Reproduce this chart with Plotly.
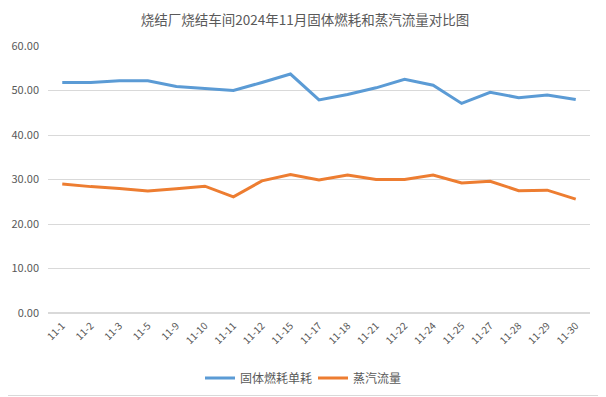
import plotly.graph_objects as go

categories = ["11-1", "11-2", "11-3", "11-5", "11-9", "11-10", "11-11", "11-12", "11-15", "11-17",
              "11-18", "11-21", "11-22", "11-24", "11-25", "11-27", "11-28", "11-29", "11-30"]
solid_fuel = [51.8, 51.8, 52.2, 52.2, 50.9, 50.5, 50.0, 51.8, 53.7, 47.9,
              49.1, 50.6, 52.5, 51.2, 47.1, 49.6, 48.4, 49.0, 48.0]
steam_flow = [29.0, 28.4, 28.0, 27.4, 27.9, 28.5, 26.1, 29.7, 31.1, 29.9,
              31.0, 30.0, 30.0, 31.0, 29.2, 29.6, 27.5, 27.6, 25.6]
series_names = ["固体燃耗单耗", "蒸汽流量"]
title_text = "烧结厂烧结车间2024年11月固体燃耗和蒸汽流量对比图"

# page body has an 8px default margin, so the figure starts at (8, 8)
OFF = 8
W, H = 606 - OFF, 397 - OFF
L, R, T, B = 48 - OFF, 16, 46 - OFF, 84

fig = go.Figure()
fig.add_trace(go.Scatter(x=categories, y=solid_fuel, mode="lines", name=series_names[0],
                         line=dict(color="#5B9BD5", width=3)))
fig.add_trace(go.Scatter(x=categories, y=steam_flow, mode="lines", name=series_names[1],
                         line=dict(color="#ED7D31", width=3)))

pw = W - L - R
ph = H - T - B
fig.add_shape(type="rect", xref="paper", yref="paper",
              x0=-(L + 5) / pw, x1=1 + (R - 1.5) / pw,
              y0=-(B - 1.5) / ph, y1=1 + (T + 5) / ph,
              line=dict(color="#d9d9d9", width=1), layer="below")

fig.update_layout(
    width=W, height=H,
    margin=dict(l=L, r=R, t=T, b=B, autoexpand=False),
    paper_bgcolor="white", plot_bgcolor="white",
    font=dict(family="Noto Sans CJK SC", color="#595959", size=11),
    title=dict(text=title_text, x=(305 - OFF - L) / pw, xanchor="center", y=1 - (20 - OFF) / H, yanchor="middle",
               xref="paper", yref="container",
               font=dict(size=13.5, color="#595959")),
    showlegend=True,
    legend=dict(orientation="h", x=(200 - OFF - L) / pw, xanchor="left",
                y=-(378 - OFF - (H - B)) / ph, yanchor="middle",
                font=dict(size=12, color="#595959"), entrywidth=68, entrywidthmode="pixels",
                tracegroupgap=0),
    xaxis=dict(type="category", tickangle=-45, showgrid=False, showline=False, ticks="",
               automargin=False, ticklabelstandoff=4,
               tickfont=dict(size=10, color="#595959"), range=[-0.5, len(categories) - 0.5]),
    yaxis=dict(range=[0, 60], dtick=10, tickformat=".2f", showgrid=True, gridcolor="#d9d9d9",
               gridwidth=1, zeroline=True, zerolinecolor="#d9d9d9", showline=False, ticks="",
               automargin=False, ticklabelstandoff=8, tickfont=dict(size=11, color="#595959")),
)

fig.write_html("out.html")
